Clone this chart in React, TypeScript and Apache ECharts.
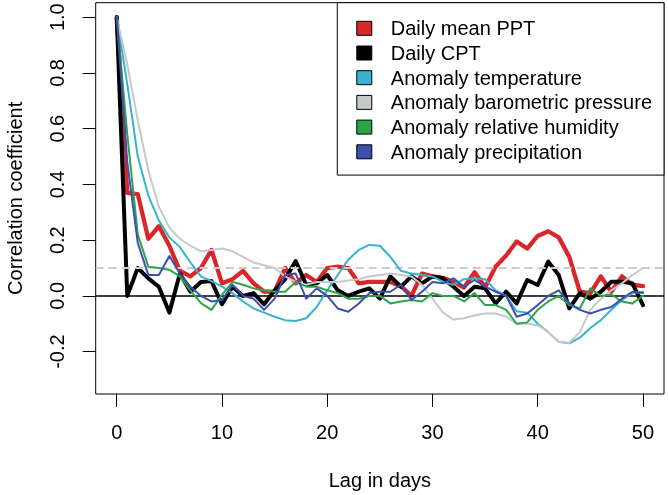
import React, { useEffect, useRef } from "react";
import * as echarts from "echarts";

const lags = [0, 1, 2, 3, 4, 5, 6, 7, 8, 9, 10, 11, 12, 13, 14, 15, 16, 17, 18, 19, 20, 21, 22, 23, 24, 25, 26, 27, 28, 29, 30, 31, 32, 33, 34, 35, 36, 37, 38, 39, 40, 41, 42, 43, 44, 45, 46, 47, 48, 49, 50];

const dailyMeanPPT = [1.0, 0.37, 0.365, 0.205, 0.25, 0.18, 0.09, 0.07, 0.1, 0.165, 0.045, 0.06, 0.09, 0.045, 0.015, 0.015, 0.1, 0.045, 0.075, 0.05, 0.1, 0.105, 0.1, 0.045, 0.05, 0.05, 0.05, 0.035, 0.0, 0.08, 0.07, 0.065, 0.05, 0.03, 0.085, 0.03, 0.105, 0.145, 0.195, 0.17, 0.215, 0.232, 0.21, 0.14, 0.015, 0.01, 0.07, 0.015, 0.07, 0.04, 0.035];

const dailyCPT = [1.0, 0.0, 0.1, 0.063, 0.033, -0.06, 0.08, 0.015, 0.05, 0.053, -0.03, 0.033, 0.0, 0.01, -0.03, 0.02, 0.06, 0.125, 0.04, 0.045, 0.075, 0.02, 0.0, 0.015, 0.027, -0.01, 0.07, 0.033, 0.07, 0.045, 0.07, 0.063, 0.033, 0.0, 0.033, 0.027, -0.027, 0.015, -0.027, 0.057, 0.039, 0.123, 0.075, -0.045, 0.01, -0.01, 0.015, 0.051, 0.051, 0.045, -0.033];

const anomalyTemperature = [1.0, 0.76, 0.5, 0.36, 0.27, 0.21, 0.175, 0.12, 0.07, 0.053, 0.033, 0.01, -0.02, -0.045, -0.06, -0.075, -0.087, -0.09, -0.08, -0.04, 0.02, 0.075, 0.13, 0.165, 0.183, 0.18, 0.14, 0.09, 0.08, 0.075, 0.07, 0.05, 0.04, 0.06, 0.063, 0.06, 0.02, 0.0, -0.055, -0.06, -0.1, -0.13, -0.165, -0.17, -0.15, -0.115, -0.087, -0.05, -0.015, 0.01, 0.015];

const anomalyPressure = [1.0, 0.83, 0.63, 0.45, 0.32, 0.245, 0.205, 0.18, 0.16, 0.165, 0.17, 0.16, 0.14, 0.12, 0.11, 0.1, 0.07, 0.05, 0.04, 0.05, 0.05, 0.05, 0.055, 0.06, 0.07, 0.075, 0.08, 0.075, 0.07, 0.04, -0.01, -0.06, -0.085, -0.08, -0.07, -0.063, -0.063, -0.075, -0.1, -0.1, -0.105, -0.13, -0.165, -0.168, -0.13, -0.05, -0.01, 0.02, 0.045, 0.075, 0.1];

const anomalyHumidity = [1.0, 0.58, 0.22, 0.105, 0.1, 0.093, 0.07, 0.02, -0.026, -0.05, 0.004, 0.05, 0.04, 0.027, 0.02, 0.015, 0.015, 0.05, 0.033, 0.033, 0.02, 0.01, -0.01, -0.01, 0.0, 0.0, -0.027, -0.02, -0.015, -0.02, 0.01, 0.0, 0.0, -0.02, 0.01, -0.033, -0.033, -0.05, -0.1, -0.095, -0.05, -0.02, 0.0, -0.033, -0.045, 0.027, 0.0, 0.005, -0.02, -0.027, 0.0];

const anomalyPrecipitation = [1.0, 0.48, 0.19, 0.075, 0.075, 0.143, 0.08, 0.033, 0.0, -0.02, -0.015, 0.04, 0.0, -0.01, -0.05, -0.01, 0.075, 0.08, -0.01, 0.027, 0.0, -0.045, -0.057, -0.027, 0.01, 0.015, 0.015, 0.04, -0.015, 0.015, 0.05, 0.045, 0.063, 0.033, 0.057, 0.033, 0.015, 0.0, -0.075, -0.063, -0.033, 0.0, 0.02, -0.027, -0.05, -0.063, -0.05, -0.04, -0.01, 0.015, 0.01];

const seriesNames = [
  "Daily mean PPT",
  "Daily CPT",
  "Anomaly temperature",
  "Anomaly barometric pressure",
  "Anomaly relative humidity",
  "Anomaly precipitation",
];
const seriesValues = [dailyMeanPPT, dailyCPT, anomalyTemperature, anomalyPressure, anomalyHumidity, anomalyPrecipitation];
const seriesColors = ["#d9262b", "#000000", "#34b4cf", "#c4c9c9", "#2aa64a", "#3f4fae"];
const seriesWidths = [4.3, 4, 2, 2, 2, 2];

const xTicks = [0, 10, 20, 30, 40, 50];
const yTicks = [-0.2, 0, 0.2, 0.4, 0.6, 0.8, 1.0];
const zeroLine = 0;
const thresholdLine = 0.1;

const FONT = "'Liberation Sans', Arial, sans-serif";

export default function App() {
  const ref = useRef<HTMLDivElement>(null);
  useEffect(() => {
    if (!ref.current) return;
    const chart = echarts.init(ref.current, undefined, { renderer: "svg" });
    const series: any[] = seriesNames.map((name, i) => ({
      name,
      type: "line",
      data: lags.map((l, j) => [l, seriesValues[i][j]]),
      showSymbol: false,
      symbol: "none",
      itemStyle: { color: seriesColors[i] },
      lineStyle: { color: seriesColors[i], width: seriesWidths[i], cap: "round", join: "round" },
      z: 3 + i,
      silent: true,
    }));
    series.unshift({
      name: "refLines",
      type: "line",
      data: [],
      z: 2,
      silent: true,
      markLine: {
        silent: true,
        symbol: "none",
        label: { show: false },
        animation: false,
        data: [
          { yAxis: thresholdLine, lineStyle: { color: "#cccccc", width: 2, type: [8, 5] } },
          { yAxis: zeroLine, lineStyle: { color: "#000000", width: 1.5, type: "solid" } },
        ],
      },
    });
    chart.setOption({
      animation: false,
      textStyle: { fontFamily: FONT },
      grid: {
        left: 95.7,
        right: 4,
        top: 2.7,
        bottom: 101,
        containLabel: false,
        outerBoundsMode: "none",
        show: true,
        borderColor: "#000",
        borderWidth: 1,
        backgroundColor: "transparent",
      },
      legend: {
        data: seriesNames.map((n) => ({ name: n })),
        orient: "vertical",
        right: 4,
        top: 2.7,
        icon: "rect",
        itemWidth: 15,
        itemHeight: 14,
        itemGap: 4.7,
        padding: [15.6, 12, 13.3, 19],
        borderColor: "#000",
        borderWidth: 1,
        backgroundColor: "#fff",
        itemStyle: { borderColor: "#000", borderWidth: 1 },
        textStyle: { fontSize: 20, lineHeight: 20, color: "#000", fontFamily: FONT, padding: [0, 0, 0, 14] },
        selectedMode: false,
        z: 10,
      },
      xAxis: {
        type: "value",
        min: -2,
        max: 52,
        name: "Lag in days",
        nameLocation: "middle",
        nameGap: 76,
        nameTextStyle: { fontSize: 20, color: "#000", fontFamily: FONT },
        axisLine: { show: false, onZero: false },
        axisTick: { show: true, length: 13, lineStyle: { color: "#000", width: 1 }, customValues: xTicks },
        axisLabel: { customValues: xTicks, fontSize: 20, margin: 28, color: "#000", fontFamily: FONT },
        splitLine: { show: false },
      },
      yAxis: {
        type: "value",
        min: -0.352,
        max: 1.052,
        name: "Correlation coefficient",
        nameLocation: "middle",
        nameGap: 71,
        nameTextStyle: { fontSize: 20, color: "#000", fontFamily: FONT },
        axisLine: { show: false, onZero: false },
        axisTick: { show: true, length: 13, lineStyle: { color: "#000", width: 1 }, customValues: yTicks },
        axisLabel: {
          customValues: yTicks,
          fontSize: 20,
          margin: 29,
          rotate: 90,
          color: "#000",
          fontFamily: FONT,
          formatter: (v: number) => v.toFixed(1),
        },
        splitLine: { show: false },
      },
      series,
    });
    return () => chart.dispose();
  }, []);
  return <div ref={ref} style={{ position: "fixed", left: 0, top: 0, width: 668, height: 495 }} />;
}
